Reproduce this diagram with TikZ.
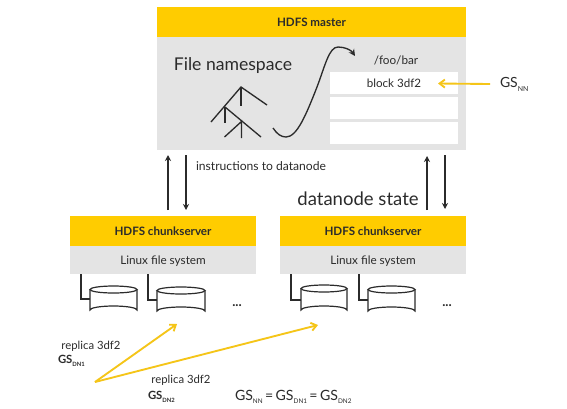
\documentclass[tikz,border=0pt]{standalone}
\usepackage{fontspec}
\setmainfont{Lato}
\usetikzlibrary{arrows.meta,positioning}
\definecolor{ygold}{HTML}{FFCC00}
\definecolor{ygray}{HTML}{E4E4E4}
\definecolor{yline}{HTML}{F5C518}
\definecolor{ink}{HTML}{2B2B2B}
\newcommand{\GSsub}[2]{GS\raisebox{-0.45ex}{\fontsize{#2}{#2}\selectfont #1}}
\tikzset{
  x=0.75pt,y=-0.75pt,
  every node/.style={inner sep=0pt,outer sep=0pt,text=ink},
  yband/.style={fill=ygold,draw=none,minimum height=22.5pt,anchor=north west,font=\fontsize{8.7}{10}\selectfont\bfseries},
  gband/.style={fill=ygray,draw=none,anchor=north west},
  rowbox/.style={fill=white,draw=none,minimum width=96pt,minimum height=16.5pt,anchor=north west,font=\fontsize{8.7}{10}\selectfont},
  flow/.style={draw=ink,line width=1pt,-{Stealth[length=4.5pt,width=4.5pt]}},
  tree/.style={draw=ink,line width=1pt},
  link/.style={draw=ink,line width=0.9pt},
  yarrow/.style={draw=yline,line width=1.4pt,-{Straight Barb[length=4pt,width=6pt]}},
  label/.style={font=\fontsize{8.8}{10}\selectfont},
  replabel/.style={font=\fontsize{8.5}{10}\selectfont},
  disk/.style={draw=ink,line width=0.9pt,fill=white},
}
\newcommand{\cyl}[4]{% left, right, top y, bottom y
  \path[disk] (#1,#3+3.5) -- (#1,#4-4) arc[start angle=180,end angle=360,x radius={(#2-#1)/2},y radius=4] -- (#2,#3+3.5);
  \path[disk] ({(#1+#2)/2},#3+3.5) ellipse[x radius={(#2-#1)/2},y radius=3.5];
}
\begin{document}
\begin{tikzpicture}
\path[use as bounding box,fill=white] (0,0) rectangle (567,408);
% master
\node[gband,minimum width=231.75pt,minimum height=84.75pt] (mbody) at (157,37) {};
\node[yband,minimum width=231.75pt] (mhead) at (157,7) {HDFS master};
\node[font=\fontsize{13.2}{16}\selectfont] (fn) at (233,66) {File namespace};
\node[label] (foo) at (396,60) {/foo/bar};
\node[rowbox] (r1) at (330,72) {block 3df2};
\node[rowbox] (r2) at (330,97) {};
\node[rowbox] (r3) at (330,122) {};
% tree
\coordinate (t0) at (241,87); \coordinate (t1) at (267,105); \coordinate (t2) at (241,106);
\coordinate (t3) at (225,107); \coordinate (t4) at (211,122); \coordinate (t5) at (225,123);
\coordinate (t6) at (261,137); \coordinate (t7) at (241.5,121.5); \coordinate (t8) at (224.5,137); \coordinate (t9) at (241.5,138);
\draw[tree] (t1) -- (t0) -- (t4);
\draw[tree] (t0) -- (t2);
\draw[tree] (t3) -- (t5);
\draw[tree] (t3) -- (t6);
\draw[tree] (t8) -- (t7) -- (t9);
% curve
\coordinate (c0) at (273,128); \coordinate (c1) at (338,47); \coordinate (c2) at (355,56);
\draw[draw=ink,line width=1pt,-{Stealth[length=5pt,width=5pt]}] (c0) .. controls (277,134) and (281,137) .. (286,137) .. controls (297,137) and (306,115) .. (317,87) .. controls (325,66) and (329,47) .. (c1) .. controls (345,47) and (351,50) .. (c2);
% GS NN
\node[font=\fontsize{10.5}{12}\selectfont,anchor=west] (gsnn) at (500,84.5) {\GSsub{NN}{5.2}};
\coordinate (gsnnw) at (490,84);
\coordinate (blk) at (438,83.5);
\draw[yarrow] (gsnnw) -- (blk);
% chunkservers
\node[gband,minimum width=139.5pt,minimum height=21pt] (b1) at (70,246) {};
\node[yband,minimum width=139.5pt] (h1) at (70,216) {HDFS chunkserver};
\node[label] (l1) at (163,261) {Linux file system};
\node[gband,minimum width=139.5pt,minimum height=21pt] (b2) at (280,246) {};
\node[yband,minimum width=139.5pt] (h2) at (280,216) {HDFS chunkserver};
\node[label] (l2) at (373,261) {Linux file system};
% disks
\draw[link] (81,274) |- (90,299);
\draw[link] (148,274) |- (157,300);
\draw[link] (291,274) |- (301,300);
\draw[link] (359,274) |- (368,300);
\cyl{90}{137}{286}{314}
\cyl{157}{205}{287}{315}
\cyl{301}{347}{285}{314}
\cyl{368}{415}{286}{315}
\node[font=\fontsize{10}{12}\selectfont\bfseries] (d1) at (237,306) {...};
\node[font=\fontsize{10}{12}\selectfont\bfseries] (d2) at (447,306) {...};
% vertical arrows
\coordinate (a1) at (168,210); \coordinate (a2) at (168,155);
\coordinate (a3) at (186,155); \coordinate (a4) at (186,210);
\coordinate (a5) at (427,210); \coordinate (a6) at (427,156);
\coordinate (a7) at (445,155); \coordinate (a8) at (445,209);
\draw[flow] (a1) -- (a2);
\draw[flow] (a3) -- (a4);
\draw[flow] (a5) -- (a6);
\draw[flow] (a7) -- (a8);
\node[font=\fontsize{9.1}{10}\selectfont,anchor=west] (inst) at (196,166) {instructions to datanode};
\node[font=\fontsize{13.9}{16}\selectfont] (state) at (358,199) {datanode state};
% replicas
\coordinate (o) at (95,382); \coordinate (o1) at (177,324); \coordinate (o2) at (318,325);
\draw[yarrow] (o) -- (o1);
\draw[yarrow] (o) -- (o2);
\node[replabel] (rep1) at (91,346) {replica 3df2};
\node[font=\fontsize{8.5}{10}\selectfont\bfseries,anchor=west] (gs1) at (58,361) {\GSsub{DN1}{4.4}};
\node[replabel] (rep2) at (181,380) {replica 3df2};
\node[font=\fontsize{8.5}{10}\selectfont\bfseries,anchor=west] (gs2) at (148,397) {\GSsub{DN2}{4.4}};
\node[font=\fontsize{10.6}{12}\selectfont,anchor=west] (eq) at (235,396.5) {\GSsub{NN}{4.8}\,=\,\GSsub{DN1}{4.8}\,=\,\GSsub{DN2}{4.8}};
\end{tikzpicture}
\end{document}
